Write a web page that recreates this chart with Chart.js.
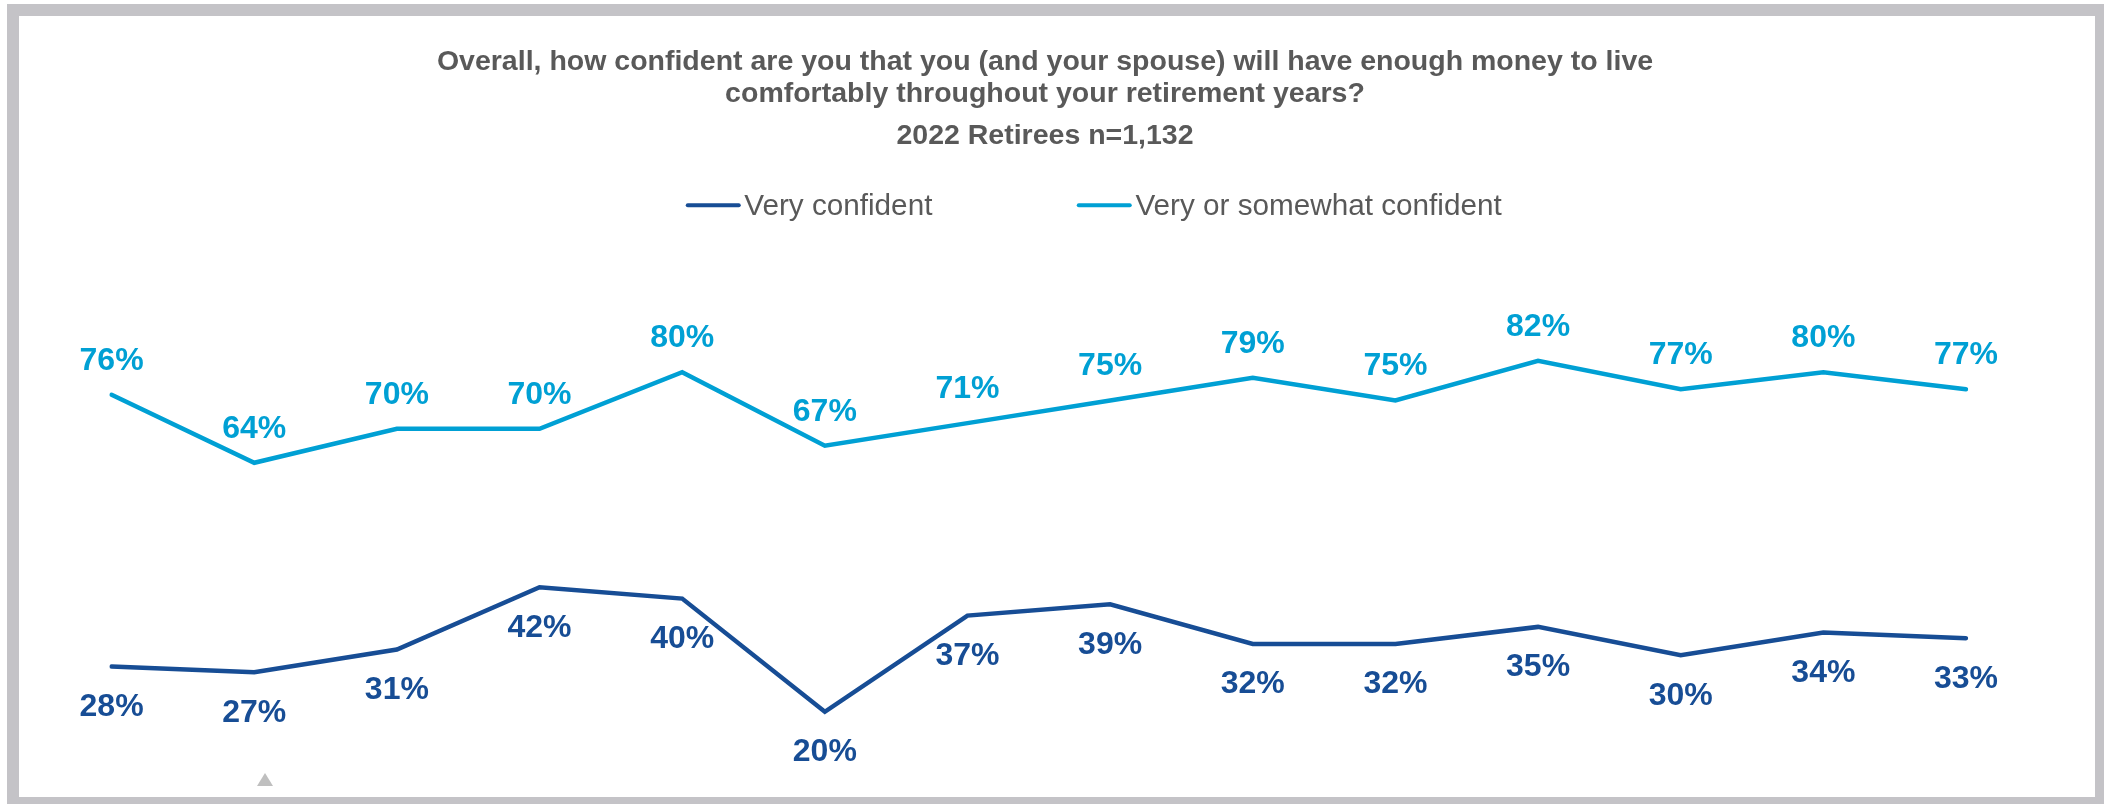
<!DOCTYPE html>
<html>
<head>
<meta charset="utf-8">
<title>Retiree confidence</title>
<script src="https://cdn.jsdelivr.net/npm/chart.js@4.4.1/dist/chart.umd.min.js"></script>
<style>
  html, body { margin: 0; padding: 0; background: #fff; overflow: hidden; }
  body { width: 2104px; height: 804px; position: relative; }
  .frame {
    position: absolute; left: 7px; top: 4px; width: 2076px; height: 781px;
    border-style: solid; border-color: #c4c3c7; border-width: 12px 9px 7px 12px;
    background: #fff;
  }
  .chart-box { position: absolute; left: 0; top: 0; width: 2076px; height: 781px; }
  #legend {
    position: absolute; left: 1074.5px; top: 188.7px; transform: translate(-50%, -50%);
    display: flex; align-items: center; gap: 144px;
    font: 29.7px "Liberation Sans", Arial, sans-serif; color: #595959; line-height: 1;
    white-space: nowrap;
  }
  #legend .item { display: flex; align-items: center; }
  #legend .swatch { width: 55px; height: 4px; border-radius: 2px; margin-right: 4px; }
  .marker {
    position: absolute; left: 238px; top: 757px; width: 0; height: 0;
    border-left: 8.5px solid transparent; border-right: 8.5px solid transparent;
    border-bottom: 13px solid #bfbfbf;
  }
</style>
</head>
<body>
<div class="frame">
  <div class="chart-box"><canvas id="confidenceChart"></canvas></div>
  <div id="legend"></div>
  <div class="marker"></div>
</div>
<script>
const years = ['2009', '2010', '2011', '2012', '2013', '2014', '2015',
               '2016', '2017', '2018', '2019', '2020', '2021', '2022'];
const veryConfident = [28, 27, 31, 42, 40, 20, 37, 39, 32, 32, 35, 30, 34, 33];
const veryOrSomewhat = [76, 64, 70, 70, 80, 67, 71, 75, 79, 75, 82, 77, 80, 77];

const titleLines = [
  'Overall, how confident are you that you (and your spouse) will have enough money to live',
  'comfortably throughout your retirement years?'
];
const subtitleText = '2022 Retirees n=1,132';

const DARK = '#174d95';
const LIGHT = '#00a0d4';
const GREY_TEXT = '#595959';
const FONT = '"Liberation Sans", Arial, sans-serif';

// percentage labels above / below each point
const valueLabels = {
  id: 'valueLabels',
  afterDatasetsDraw(chart) {
    const ctx = chart.ctx;
    ctx.save();
    ctx.font = 'bold 32px ' + FONT;
    ctx.textAlign = 'center';
    ctx.textBaseline = 'middle';
    chart.data.datasets.forEach((ds, i) => {
      const meta = chart.getDatasetMeta(i);
      ctx.fillStyle = ds.borderColor;
      meta.data.forEach((pt, j) => {
        ctx.fillText(ds.data[j] + '%', pt.x, pt.y + ds.labelOffset);
      });
    });
    ctx.restore();
  }
};

// legend rendered as html, built from the chart's own legend items
const htmlLegend = {
  id: 'htmlLegend',
  afterUpdate(chart) {
    const box = document.getElementById('legend');
    box.innerHTML = '';
    const items = chart.options.plugins.legend.labels.generateLabels(chart);
    items.forEach(item => {
      const el = document.createElement('div');
      el.className = 'item';
      const sw = document.createElement('span');
      sw.className = 'swatch';
      sw.style.background = item.strokeStyle;
      const txt = document.createElement('span');
      txt.textContent = item.text;
      el.appendChild(sw);
      el.appendChild(txt);
      box.appendChild(el);
    });
  }
};

const ctx = document.getElementById('confidenceChart').getContext('2d');
new Chart(ctx, {
  type: 'line',
  data: {
    labels: years,
    datasets: [
      {
        label: 'Very confident',
        data: veryConfident,
        borderColor: DARK,
        backgroundColor: DARK,
        labelOffset: 40.5
      },
      {
        label: 'Very or somewhat confident',
        data: veryOrSomewhat,
        borderColor: LIGHT,
        backgroundColor: LIGHT,
        labelOffset: -34
      }
    ]
  },
  options: {
    responsive: true,
    maintainAspectRatio: false,
    animation: false,
    events: [],
    layout: { padding: { left: 92.6, right: 116.6, top: 0, bottom: 56.9 } },
    elements: {
      line: { borderWidth: 4.5, tension: 0, borderCapStyle: 'round' },
      point: { radius: 0, hoverRadius: 0 }
    },
    scales: {
      x: { display: false },
      y: {
        position: 'right',
        min: 15,
        max: 90,
        grid: { display: false },
        border: { display: false },
        ticks: { display: false },
        afterFit(scale) { scale.width = 12.4; }
      }
    },
    plugins: {
      legend: { display: false },
      tooltip: { enabled: false },
      title: {
        display: true,
        text: titleLines,
        color: GREY_TEXT,
        font: { family: FONT, size: 28.5, weight: 'bold', lineHeight: '31.6px' },
        padding: { top: 30.6, bottom: 9.7 }
      },
      subtitle: {
        display: true,
        text: subtitleText,
        color: GREY_TEXT,
        font: { family: FONT, size: 28.5, weight: 'bold', lineHeight: '33px' },
        padding: { top: 0, bottom: 163.1 }
      }
    }
  },
  plugins: [valueLabels, htmlLegend]
});
</script>
</body>
</html>
